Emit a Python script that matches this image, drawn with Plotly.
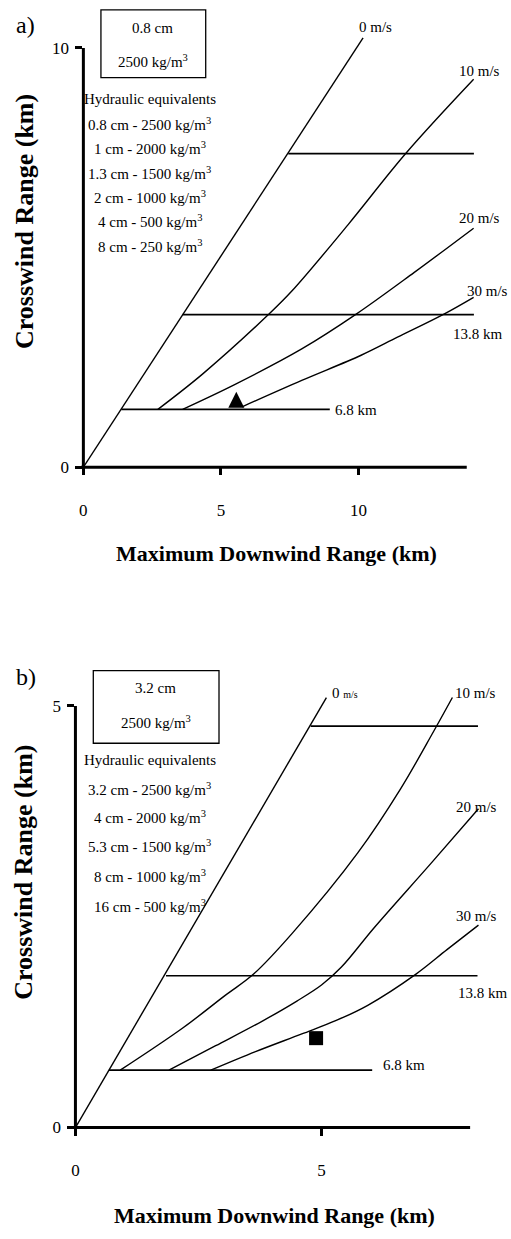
import plotly.graph_objects as go

W, H = 511, 1239
FONT = "Liberation Serif, Times New Roman, serif"

# ---------------- data: panel a (0.8 cm, 2500 kg/m3) ----------------
a_x_0 = [0.0, 10.17]
a_y_0 = [0.0, 10.24]
a_x_10 = [2.71, 4.33, 6.73, 7.58, 9.62, 11.72, 14.19]
a_y_10 = [1.38, 2.22, 3.64, 4.20, 5.78, 7.48, 9.25]
a_x_20 = [3.61, 5.50, 7.94, 9.92, 12.02, 14.19]
a_y_20 = [1.38, 1.97, 2.82, 3.65, 4.64, 5.70]
a_x_30 = [5.77, 7.94, 10.10, 11.42, 13.11, 14.19]
a_y_30 = [1.44, 2.07, 2.67, 3.10, 3.65, 4.05]
a_range_y = [1.38, 3.64, 7.48]
a_range_x0 = [1.38, 3.61, 7.45]
a_range_x1 = [8.96, 14.20, 14.20]
a_marker_x = [5.56]
a_marker_y = [1.80]
a_xticks = [0, 5, 10]
a_yticks = [0, 10]
a_list = ["Hydraulic equivalents",
          "0.8 cm - 2500 kg/m<sup>3</sup>",
          "1 cm - 2000 kg/m<sup>3</sup>",
          "1.3 cm - 1500 kg/m<sup>3</sup>",
          "2 cm - 1000 kg/m<sup>3</sup>",
          "4 cm - 500 kg/m<sup>3</sup>",
          "8 cm - 250 kg/m<sup>3</sup>"]

# ---------------- data: panel b (3.2 cm, 2500 kg/m3) ----------------
b_x_0 = [0.0, 5.10]
b_y_0 = [0.0, 5.10]
b_x_10 = [0.91, 2.18, 3.05, 3.62, 4.40, 5.74, 6.61, 7.28, 7.66]
b_y_10 = [0.68, 1.18, 1.57, 1.82, 2.30, 3.26, 4.02, 4.70, 5.10]
b_x_20 = [1.90, 2.85, 3.79, 4.50, 5.00, 5.40, 6.07, 7.22, 8.19]
b_y_20 = [0.68, 0.97, 1.26, 1.50, 1.69, 1.90, 2.37, 3.13, 3.78]
b_x_30 = [2.75, 3.66, 4.60, 5.30, 5.94, 6.92, 7.55, 8.19]
b_y_30 = [0.68, 0.90, 1.11, 1.27, 1.45, 1.82, 2.11, 2.40]
b_range_y = [0.68, 1.80, 4.76]
b_range_x0 = [0.68, 1.84, 4.78]
b_range_x1 = [6.03, 8.17, 8.18]
b_marker_x = [4.89]
b_marker_y = [1.06]
b_xticks = [0, 5]
b_yticks = [0, 5]
b_list = ["Hydraulic equivalents",
          "3.2 cm - 2500 kg/m<sup>3</sup>",
          "4 cm - 2000 kg/m<sup>3</sup>",
          "5.3 cm - 1500 kg/m<sup>3</sup>",
          "8 cm - 1000 kg/m<sup>3</sup>",
          "16 cm - 500 kg/m<sup>3</sup>"]

# ---------------- layout geometry ----------------
A_XDOM = [80 / W, 475 / W]
A_XRNG = [0, 14.25]
A_YDOM = [(H - 471) / H, (H - 35.6) / H]
A_YRNG = [0, 10.3]
B_XDOM = [72 / W, 481.2 / W]
B_XRNG = [0, 8.25]
B_YDOM = [(H - 1136.7) / H, (H - 694.7) / H]
B_YRNG = [0, 5.2]


def P(px, py):
    return px / W, 1 - py / H


def to_paper(xdom, xrng, ydom, yrng, x, y):
    px = xdom[0] + (x - xrng[0]) / (xrng[1] - xrng[0]) * (xdom[1] - xdom[0])
    py = ydom[0] + (y - yrng[0]) / (yrng[1] - yrng[0]) * (ydom[1] - ydom[0])
    return px, py


fig = go.Figure()
LINE = dict(color="black", width=1.4)
HLINE = dict(color="black", width=1.7)


def add_panel(xa, ya, curves, rx0, rx1, ry, mx, my, msym, msize):
    for cx, cy in curves:
        fig.add_trace(go.Scatter(x=cx, y=cy, mode="lines", line=dict(LINE, shape="spline", smoothing=1.0),
                                 xaxis=xa, yaxis=ya, hoverinfo="skip"))
    for x0, x1, y in zip(rx0, rx1, ry):
        fig.add_trace(go.Scatter(x=[x0, x1], y=[y, y], mode="lines", line=HLINE,
                                 xaxis=xa, yaxis=ya, hoverinfo="skip"))
    fig.add_trace(go.Scatter(x=mx, y=my, mode="markers",
                             marker=dict(symbol=msym, size=msize, color="black", line=dict(width=0)),
                             xaxis=xa, yaxis=ya, cliponaxis=False, hoverinfo="skip"))


add_panel("x", "y", [(a_x_0, a_y_0), (a_x_10, a_y_10), (a_x_20, a_y_20), (a_x_30, a_y_30)],
          a_range_x0, a_range_x1, a_range_y, a_marker_x, a_marker_y, "arrow-up", 16)
add_panel("x2", "y2", [(b_x_0, b_y_0), (b_x_10, b_y_10), (b_x_20, b_y_20), (b_x_30, b_y_30)],
          b_range_x0, b_range_x1, b_range_y, b_marker_x, b_marker_y, "square", 14)

tickfont = dict(family=FONT, size=17, color="black")
common = dict(showgrid=False, zeroline=False, showline=False, ticks="outside", ticklen=7,
              tickwidth=2.5, tickcolor="black", tickfont=tickfont, fixedrange=True)

fig.update_layout(
    width=W, height=H, margin=dict(l=0, r=0, t=0, b=0),
    paper_bgcolor="white", plot_bgcolor="white", showlegend=False,
    font=dict(family=FONT, size=15, color="black"),
    xaxis=dict(common, domain=A_XDOM, range=A_XRNG, tickvals=a_xticks, anchor="y", ticklabelstandoff=20),
    yaxis=dict(common, domain=A_YDOM, range=A_YRNG, tickvals=a_yticks, anchor="x", ticklabelstandoff=3),
    xaxis2=dict(common, domain=B_XDOM, range=B_XRNG, tickvals=b_xticks, anchor="y2", ticklabelstandoff=20),
    yaxis2=dict(common, domain=B_YDOM, range=B_YRNG, tickvals=b_yticks, anchor="x2", ticklabelstandoff=3),
)

# axis lines (drawn in paper space so they can extend past the data area)
shapes = []
for (xd, xr, yd, yr, xlen, ylen) in [(A_XDOM, A_XRNG, A_YDOM, A_YRNG, 13.94, 10),
                                     (B_XDOM, B_XRNG, B_YDOM, B_YRNG, 8.02, 5)]:
    x0, y0 = to_paper(xd, xr, yd, yr, -0.09 * xr[1] / 14.25, 0)
    x1, _ = to_paper(xd, xr, yd, yr, xlen, 0)
    shapes.append(dict(type="line", xref="paper", yref="paper", x0=x0, x1=x1, y0=y0, y1=y0,
                       line=dict(color="black", width=3)))
    xa, ya0 = to_paper(xd, xr, yd, yr, 0, 0)
    _, ya1 = to_paper(xd, xr, yd, yr, 0, ylen)
    shapes.append(dict(type="line", xref="paper", yref="paper", x0=xa, x1=xa, y0=ya0 - 1.5 / H, y1=ya1,
                       line=dict(color="black", width=3)))

# boxes
bx0, by0 = P(97.7, 78.3)
bx1, by1 = P(203.3, 10)
shapes.append(dict(type="rect", xref="paper", yref="paper", x0=bx0, x1=bx1, y0=by0, y1=by1,
                   line=dict(color="black", width=1.3)))
bx0, by0 = P(90, 749.3)
bx1, by1 = P(216.7, 676)
shapes.append(dict(type="rect", xref="paper", yref="paper", x0=bx0, x1=bx1, y0=by0, y1=by1,
                   line=dict(color="black", width=1.3)))
fig.update_layout(shapes=shapes)

ann = []


def T(text, px, py, size=15, xanchor="center", bold=False, angle=0):
    x, y = P(px, py)
    if bold:
        text = "<b>" + text + "</b>"
    ann.append(dict(text=text, x=x, y=y, xref="paper", yref="paper", xanchor=xanchor, yanchor="middle",
                    showarrow=False, textangle=angle, font=dict(family=FONT, size=size, color="black")))


# panel a texts
T("a)", 22, 25, size=24)
T("0.8 cm", 150, 28)
T("2500 kg/m<sup>3</sup>", 150, 62)
for txt, py in zip(a_list, [100, 125, 149, 174, 199, 223.3, 248.3]):
    T(txt, 147, py)
T("0 m/s", 374, 27)
T("10 m/s", 502, 72, xanchor="right")
T("20 m/s", 502, 220, xanchor="right")
T("30 m/s", 510, 293, xanchor="right")
T("13.8 km", 505, 337, xanchor="right")
T("6.8 km", 332, 413, xanchor="left")
T("Maximum Downwind Range (km)", 275, 558, size=22, bold=True)
T("Crosswind Range (km)", 20, 223, size=26, bold=True, angle=-90)

# panel b texts
T("b)", 22.5, 683, size=24)
T("3.2 cm", 153, 693.3)
T("2500 kg/m<sup>3</sup>", 153, 727.5)
for txt, py in zip(b_list, [766, 795, 823.3, 853.3, 883.3, 913.3]):
    T(txt, 147, py)
T("0 <span style='font-size:10px'>m/s</span>", 329, 699, xanchor="left")
T("10 m/s", 498, 699, xanchor="right")
T("20 m/s", 499, 813.3, xanchor="right")
T("30 m/s", 499, 923.3, xanchor="right")
T("13.8 km", 510, 1001, xanchor="right")
T("6.8 km", 380, 1073.3, xanchor="left")
T("Maximum Downwind Range (km)", 273, 1225, size=22, bold=True)
T("Crosswind Range (km)", 20, 879, size=26, bold=True, angle=-90)

fig.update_layout(annotations=ann)
fig.write_html("out.html")
